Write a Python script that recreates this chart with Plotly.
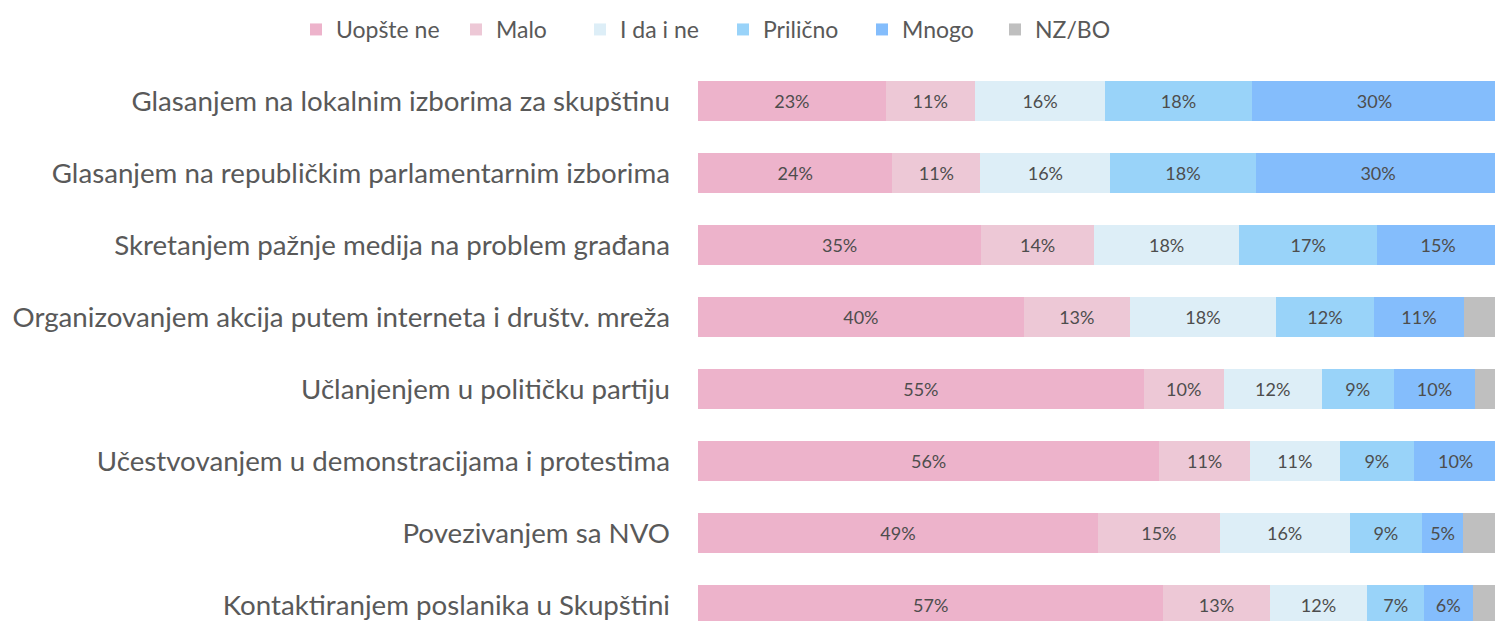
import plotly.graph_objects as go

categories = [
    "Glasanjem na lokalnim izborima za skupštinu",
    "Glasanjem na republičkim parlamentarnim izborima",
    "Skretanjem pažnje medija na problem građana",
    "Organizovanjem akcija putem interneta i društv. mreža",
    "Učlanjenjem u političku partiju",
    "Učestvovanjem u demonstracijama i protestima",
    "Povezivanjem sa NVO",
    "Kontaktiranjem poslanika u Skupštini",
]

series_names = ["Uopšte ne", "Malo", "I da i ne", "Prilično", "Mnogo", "NZ/BO"]

uopste_ne = [23.0, 23.8, 34.7, 39.9, 54.6, 56.5, 49.0, 57.0]
malo = [10.9, 10.8, 13.8, 13.0, 9.8, 11.1, 14.9, 13.0]
i_da_i_ne = [16.0, 15.9, 17.8, 17.9, 12.0, 11.0, 15.9, 12.0]
prilicno = [17.9, 17.8, 16.9, 12.0, 8.8, 9.1, 8.9, 6.9]
mnogo = [30.1, 30.0, 14.9, 11.0, 10.0, 10.2, 5.0, 6.0]
nz_bo = [2.1, 1.7, 1.9, 6.2, 4.8, 2.1, 6.3, 5.1]

series_values = [uopste_ne, malo, i_da_i_ne, prilicno, mnogo, nz_bo]
colors = ["#EDB3CB", "#EDC8D6", "#DDEEF7", "#99D3F9", "#84BDFC", "#BFBFBF"]
show_labels = [True, True, True, True, True, False]

W, H = 1495, 613  # page body adds an 8px margin, so this fills the 1503x621 window
legend_left_px = [288, 448, 572, 715, 854, 987]

fig = go.Figure()
for i, (name, vals, col, lab) in enumerate(zip(series_names, series_values, colors, show_labels)):
    fig.add_trace(go.Bar(
        y=categories, x=vals, name=name, orientation="h",
        marker=dict(color=col, line=dict(width=0)),
        text=[f"{v:.0f}%" for v in vals] if lab else None,
        textposition="inside" if lab else "none",
        insidetextanchor="middle",
        textangle=0,
        textfont=dict(family="Lato, sans-serif", size=18, color="#4D4D4D"),
        hoverinfo="x+y+name",
        legend="legend" if i == 0 else f"legend{i+1}",
    ))

legend_common = dict(
    orientation="h", xref="container", yref="container",
    xanchor="left", y=1, yanchor="top",
    font=dict(family="Lato, sans-serif", size=23, color="#595959"),
    bgcolor="rgba(0,0,0,0)", borderwidth=0,
)
legends = {}
for i, lx in enumerate(legend_left_px):
    key = "legend" if i == 0 else f"legend{i+1}"
    legends[key] = dict(legend_common, x=lx / W)

fig.update_layout(
    barmode="stack",
    bargap=0.444,
    width=W, height=H,
    margin=dict(l=690, r=0, t=57, b=0, autoexpand=False),
    paper_bgcolor="white", plot_bgcolor="white",
    font=dict(family="Lato, sans-serif", color="#595959"),
    showlegend=True,
    **legends,
)
fig.update_xaxes(range=[0, 98.6], visible=False, fixedrange=True)
fig.update_yaxes(
    categoryorder="array", categoryarray=categories,
    range=[7.22, -0.5], autorange=False,
    tickfont=dict(family="Lato, sans-serif", size=27.7, color="#595959"),
    showgrid=False, showline=False, zeroline=False,
    ticks="", ticklabelstandoff=27,
)

fig.write_html("out.html")
